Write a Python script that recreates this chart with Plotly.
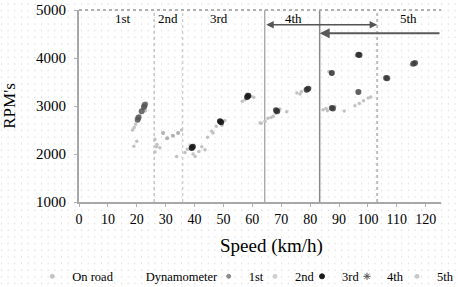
import base64
import plotly.graph_objects as go

# ---------------- data ----------------
onroad_speed = [19.0, 20.0, 19.1, 19.6, 18.5, 21.0, 22.3, 23.3, 22.0, 23.0, 20.8,
                26.3, 26.3, 27.0, 28.0, 26.8, 33.8, 35.5,
                36.7, 37.5, 38.5, 40.2, 39.5, 41.5, 43.6, 42.5, 45.9, 46.4, 44.5, 47.5, 49.5, 50.5,
                57.5, 58.0, 59.5, 60.5, 56.5,
                62.7, 64.4, 63.1, 65.4, 67.2, 68.0, 69.5, 71.9, 66.5,
                75.4, 77.0, 80.0, 76.5, 79.5,
                84.5, 85.5, 86.0, 88.5, 91.8, 95.5, 97.0, 98.5, 100.1, 101.0,
                86.5, 96.0, 106.0, 115.0, 116.8]
onroad_rpm = [2160, 2265, 2550, 2620, 2500, 2800, 2950, 3060, 3000, 2900, 2780,
              2040, 2300, 2200, 2130, 2150, 1950, 2500,
              2030, 2100, 2180, 1950, 2000, 2050, 2090, 2150, 2473, 2440, 2350, 2580, 2600, 2700,
              3130, 3250, 3200, 3180, 3100,
              2647, 2681, 2640, 2745, 2785, 2850, 2940, 2880, 2760,
              3271, 3300, 3375, 3250, 3360,
              2924, 2950, 2900, 2990, 2897, 3007, 3050, 3110, 3167, 3190,
              3720, 4050, 3600, 3860, 3900]

dyno_speed = [None]
dyno_rpm = [None]

g1_speed = [20.3, 20.6, 22.8, 22.5, 21.7]
g1_rpm = [2716, 2760, 3028, 2980, 2889]

g2_speed = [29.1, 30.5, 32.5, 34.3]
g2_rpm = [2440, 2330, 2380, 2440]

g3_speed = [39.0, 39.4, 48.8, 49.2, 58.6, 58.2]
g3_rpm = [2127, 2150, 2681, 2660, 3215, 3190]

g4_speed = [68.2, 68.6, 78.8, 79.3, 87.5, 96.7, 97.1]
g4_rpm = [2909, 2890, 3340, 3360, 3687, 4068, 4060]

g5_speed = [87.5, 87.9, 96.7, 106.3, 106.7, 115.7, 116.3]
g5_rpm = [2959, 2950, 3292, 3583, 3580, 3881, 3895]

gear_bounds = [26.0, 35.9, 64.3, 83.3, 103.2]
gear_labels = ["1st", "2nd", "3rd", "4th", "5th"]
gear_label_x = [15.1, 30.8, 48.5, 74.2, 113.9]
x_ticks = [0, 10, 20, 30, 40, 50, 60, 70, 80, 90, 100, 110, 120]
y_ticks = [1000, 2000, 3000, 4000, 5000]

# ---------------- figure ----------------
W, H = 458, 287
ML, MR, MT, MB = 79, 17, 10, 84.5
PW, PH = W - ML - MR, H - MT - MB
FONT = "Liberation Serif"

fig = go.Figure()

# (name, x, y, plot colour, plot size, opacity, legend id, legend colour, legend size, legend symbol)
series = [
    ("On road", onroad_speed, onroad_rpm, "#c2c2c2", 3.5, 1.0, "legend", "#c4c4c4", 4, "circle"),
    ("Dynamometer", dyno_speed, dyno_rpm, "rgba(0,0,0,0)", 3, 1.0, "legend2", "rgba(0,0,0,0)", 4, "circle"),
    ("1st", g1_speed, g1_rpm, "#555555", 6, 0.85, "legend3", "#8a8a8a", 4, "circle"),
    ("2nd", g2_speed, g2_rpm, "#b0b0b0", 4, 1.0, "legend4", "#cfcfcf", 4, "circle"),
    ("3rd", g3_speed, g3_rpm, "#1a1a1a", 6, 0.9, "legend5", "#1a1a1a", 5, "circle"),
    ("4th", g4_speed, g4_rpm, "#2e2e2e", 6, 0.85, "legend6", "#555555", 6, "asterisk-open"),
    ("5th", g5_speed, g5_rpm, "#3a3a3a", 6, 0.8, "legend7", "#c8c8c8", 4, "circle"),
]
for name, xs, ys, col, sz, op, lg, lcol, lsz, lsym in series:
    # data marks
    fig.add_trace(go.Scatter(x=xs, y=ys, mode="markers", name=name, showlegend=False,
                             legendgroup=name,
                             marker=dict(color=col, size=sz, opacity=op, line=dict(width=0)),
                             cliponaxis=False))
    # legend entry
    fig.add_trace(go.Scatter(x=[None], y=[None], mode="markers", name=name, showlegend=True,
                             legendgroup=name, legend=lg, hoverinfo="skip",
                             marker=dict(color=lcol, size=lsz, symbol=lsym,
                                         line=dict(width=1, color=lcol))))

# legend positions (text start px)
leg_text_px = [73.3, 146.7, 249.7, 296, 343, 388, 438]
legends = {}
for i, px in enumerate(leg_text_px):
    key = "legend" if i == 0 else f"legend{i+1}"
    legends[key] = dict(x=(px - 41) / W, xref="container", xanchor="left",
                        y=1 - 276.7 / H, yref="container", yanchor="middle",
                        bgcolor="rgba(0,0,0,0)", borderwidth=0,
                        font=dict(family=FONT, size=12.5, color="#000"),
                        itemsizing="trace")

shapes = []
bound_styles = [("#b8b8b8", 1.2, "dot"), ("#c8c8c8", 1.2, "dot"), ("#9a9a9a", 1.2, "solid"),
                ("#8a8a8a", 1.5, "solid"), ("#bdbdbd", 2, "dot")]
for xb, (c, w, d) in zip(gear_bounds, bound_styles):
    shapes.append(dict(type="line", xref="x", yref="paper", x0=xb, x1=xb, y0=0, y1=1,
                       line=dict(color=c, width=w, dash=d), layer="below"))
shapes.append(dict(type="line", xref="paper", yref="paper", x0=0, x1=1, y0=1, y1=1,
                   line=dict(color="#b0b0b0", width=2, dash="dot")))

annotations = []
for lab, lx in zip(gear_labels, gear_label_x):
    annotations.append(dict(x=lx, y=4820, xref="x", yref="y", text=lab, showarrow=False,
                            font=dict(family=FONT, size=13, color="#000")))
annotations.append(dict(x=gear_bounds[4], y=4694, xref="x", yref="y",
                        ax=gear_bounds[2], ay=4694, axref="x", ayref="y", text="",
                        showarrow=True, arrowhead=2, arrowside="end+start", arrowsize=1,
                        arrowwidth=1.5, arrowcolor="#555555", standoff=0, startstandoff=0))
annotations.append(dict(x=gear_bounds[3], y=4515, xref="x", yref="y",
                        ax=125.3, ay=4515, axref="x", ayref="y", text="",
                        showarrow=True, arrowhead=2, arrowsize=1,
                        arrowwidth=2, arrowcolor="#5a5a5a", standoff=0))
annotations.append(dict(x=(271.5 - ML) / PW, y=1 - (247 - MT) / PH, xref="paper", yref="paper",
                        xanchor="center", yanchor="middle",
                        text="Speed (km/h)", showarrow=False,
                        font=dict(family=FONT, size=19, color="#000")))
annotations.append(dict(x=(9.5 - ML) / PW, y=1 - (106.5 - MT) / PH, xref="paper", yref="paper",
                        xanchor="center", yanchor="middle",
                        text="RPM's", showarrow=False, textangle=-90,
                        font=dict(family=FONT, size=17, color="#000")))

# dotted background pattern
svg = ('<svg xmlns="http://www.w3.org/2000/svg" width="458" height="287">'
       '<defs><pattern id="p" x="0" y="0" width="6.67" height="6.67" patternUnits="userSpaceOnUse">'
       '<rect x="1" y="3.5" width="1" height="1" fill="#c6c6c6"/></pattern></defs>'
       '<rect width="458" height="287" fill="url(#p)"/></svg>')
src = "data:image/svg+xml;base64," + base64.b64encode(svg.encode()).decode()

fig.update_layout(
    width=W, height=H,
    margin=dict(l=ML, r=MR, t=MT, b=MB, autoexpand=False),
    paper_bgcolor="white", plot_bgcolor="rgba(0,0,0,0)",
    font=dict(family=FONT, color="#000"),
    showlegend=True,
    shapes=shapes, annotations=annotations,
    images=[dict(source=src, xref="paper", yref="paper",
                 x=-ML / PW, y=1 + MT / PH, sizex=W / PW, sizey=H / PH,
                 xanchor="left", yanchor="top", sizing="stretch", layer="below")],
    **legends,
)
fig.update_xaxes(range=[0, 125.3], tickvals=x_ticks, showgrid=False, zeroline=False,
                 showline=True, linecolor="#a8a8a8", linewidth=2,
                 ticks="outside", ticklen=3, tickcolor="#b0b0b0",
                 tickfont=dict(family=FONT, size=14, color="#000"))
fig.update_yaxes(range=[1000, 5000], tickvals=y_ticks, showgrid=False, zeroline=False,
                 showline=True, linecolor="#a8a8a8", linewidth=2,
                 ticks="outside", ticklen=3, tickcolor="#b0b0b0", ticklabelstandoff=5,
                 tickfont=dict(family=FONT, size=15, color="#000"))

fig.write_html("out.html", config={"displayModeBar": False},
               post_script="document.body.style.margin='0';document.body.style.overflow='hidden';")
